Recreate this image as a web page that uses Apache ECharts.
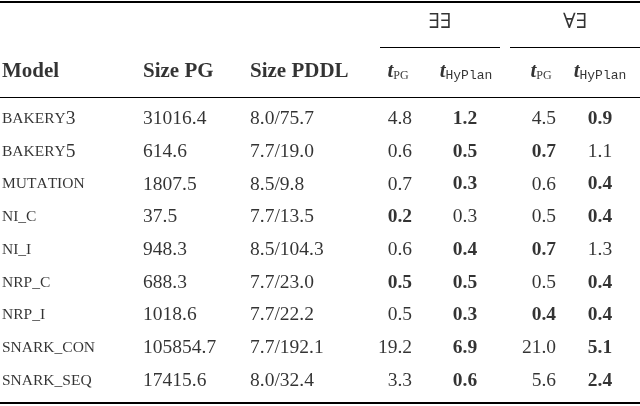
<!DOCTYPE html><html><head><meta charset="utf-8">
<script src="https://cdn.jsdelivr.net/npm/echarts@6/dist/echarts.min.js"></script>
<style>html,body{margin:0;background:#fff}#c{width:640px;height:406px}</style></head><body><div id="c"></div>
<script>
const models=["Bakery3","Bakery5","Mutation","Ni_c","Ni_i","Nrp_c","Nrp_i","Snark_con","Snark_seq"];
const sizePG=["31016.4","614.6","1807.5","37.5","948.3","688.3","1018.6","105854.7","17415.6"];
const sizePDDL=["8.0/75.7","7.7/19.0","8.5/9.8","7.7/13.5","8.5/104.3","7.7/23.0","7.7/22.2","7.7/192.1","8.0/32.4"];
const eePG=["4.8","0.6","0.7","0.2","0.6","0.5","0.5","19.2","3.3"];
const eeHy=["1.2","0.5","0.3","0.3","0.4","0.5","0.3","6.9","0.6"];
const aePG=["4.5","0.7","0.6","0.5","0.7","0.5","0.4","21.0","5.6"];
const aeHy=["0.9","1.1","0.4","0.4","1.3","0.4","0.4","5.1","2.4"];
const eePGbold=[0,0,0,1,0,1,0,0,0];
const eeHybold=[1,1,1,0,1,1,1,1,1];
const aePGbold=[0,1,0,0,1,0,1,0,0];
const aeHybold=[1,0,1,1,0,1,1,1,1];

const colX=[2,143,250,412,465,556,600];
const rowY=i=>119+i*32.7;
const F='"Liberation Serif","DejaVu Serif",serif';
function sc(name){let s='';for(const ch of name){if(/[a-zA-Z]/.test(ch))s+='{s|'+ch.toUpperCase()+'}';else if(ch==='_')s+='{s|_}';else s+='{b|'+ch+'}';}return s;}
const pts=[];
function add(x,y,t,align,bold,size){pts.push({value:[x,y],label:{show:true,position:'inside',formatter:t,align:align,fontWeight:bold?'bold':'normal',fontSize:size||19.5}});}
models.forEach((m,i)=>{
 const y=rowY(i);
 add(colX[0],y,sc(m),'left',0);
 add(colX[1],y,sizePG[i],'left',0);
 add(colX[2],y,sizePDDL[i],'left',0);
 add(colX[3],y,eePG[i],'right',eePGbold[i]);
 add(colX[4],y,eeHy[i],'center',eeHybold[i]);
 add(colX[5],y,aePG[i],'right',aePGbold[i]);
 add(colX[6],y,aeHy[i],'center',aeHybold[i]);
});
const hy=72;
add(colX[0],hy,'Model','left',1,21);
add(colX[1],hy,'Size PG','left',1,21);
add(colX[2],hy,'Size PDDL','left',1,21);
const tpg='{t|t}{sub|PG}', thy='{t|t}{mono|HyPlan}';
add(398,hy,tpg,'center',0);add(466,hy,thy,'center',0);
add(541,hy,tpg,'center',0);add(600,hy,thy,'center',0);
add(440,22,'∃∃','center',0,21);add(575,22,'∀∃','center',0,21);

const rich={s:{fontFamily:F,fontSize:15.5,color:'#000'},b:{fontFamily:F,fontSize:19.5,color:'#000'},
 t:{fontFamily:F,fontSize:21,fontStyle:'italic',fontWeight:'bold',color:'#000'},
 sub:{fontFamily:F,fontSize:12,color:'#000',padding:[8,0,0,0]},
 mono:{fontFamily:'"Liberation Mono","DejaVu Sans Mono",monospace',fontSize:13,color:'#000',padding:[8,0,0,0]}};
const ln=(x1,x2,y,w)=>[{coord:[x1,y],lineStyle:{width:w}},{coord:[x2,y]}];
const chart=echarts.init(document.getElementById('c'),null,{renderer:'canvas'});
chart.setOption({animation:false,
 grid:{left:0,right:0,top:0,bottom:0},
 xAxis:{type:'value',min:0,max:640,show:false},
 yAxis:{type:'value',min:0,max:406,inverse:true,show:false},
 series:[{type:'scatter',symbolSize:0,data:pts,
  label:{show:true,fontFamily:F,fontSize:19.5,color:'#000',rich:rich},
  markLine:{silent:true,symbol:'none',label:{show:false},lineStyle:{color:'#000',type:'solid'},
   data:[ln(0,640,2,2),ln(380,500,47,1.2),ln(510,640,47,1.2),ln(0,640,97,1.2),ln(0,640,403,2)]}}]});
</script></body></html>
